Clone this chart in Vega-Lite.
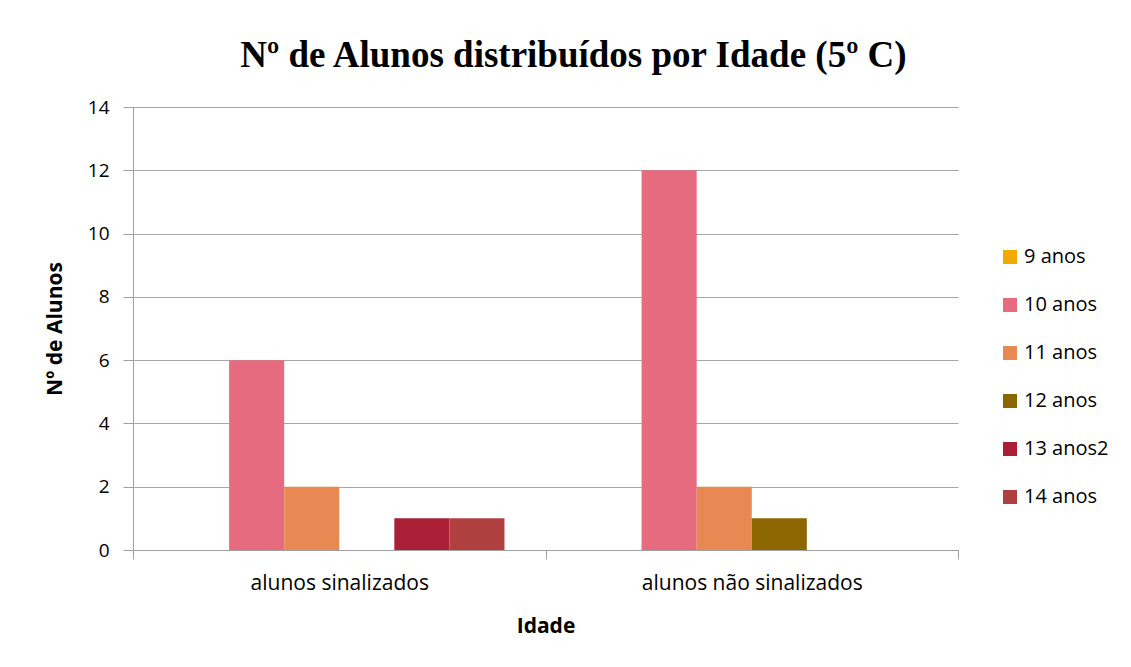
{
  "$schema": "https://vega.github.io/schema/vega-lite/v6.json",
  "autosize": {"type": "none"},
  "width": 825,
  "height": 443,
  "padding": {"left": 133, "top": 107, "right": 173, "bottom": 117},
  "background": "white",
  "title": {
    "text": "Nº de Alunos distribuídos por Idade (5º C)",
    "font": "Liberation Serif",
    "fontSize": 37,
    "fontWeight": "bold",
    "color": "#000000",
    "anchor": "middle",
    "dx": 28,
    "offset": 23
  },
  "data": {
    "values": [
      {"grupo": "alunos sinalizados", "idade": "9 anos", "alunos": 0},
      {"grupo": "alunos sinalizados", "idade": "10 anos", "alunos": 6},
      {"grupo": "alunos sinalizados", "idade": "11 anos", "alunos": 2},
      {"grupo": "alunos sinalizados", "idade": "12 anos", "alunos": 0},
      {"grupo": "alunos sinalizados", "idade": "13 anos2", "alunos": 1},
      {"grupo": "alunos sinalizados", "idade": "14 anos", "alunos": 1},
      {"grupo": "alunos não sinalizados", "idade": "9 anos", "alunos": 0},
      {"grupo": "alunos não sinalizados", "idade": "10 anos", "alunos": 12},
      {"grupo": "alunos não sinalizados", "idade": "11 anos", "alunos": 2},
      {"grupo": "alunos não sinalizados", "idade": "12 anos", "alunos": 1},
      {"grupo": "alunos não sinalizados", "idade": "13 anos2", "alunos": 0},
      {"grupo": "alunos não sinalizados", "idade": "14 anos", "alunos": 0}
    ]
  },
  "mark": {"type": "bar", "strokeWidth": 0},
  "encoding": {
    "x": {
      "field": "grupo",
      "type": "nominal",
      "sort": ["alunos sinalizados", "alunos não sinalizados"],
      "scale": {"paddingInner": 0, "paddingOuter": 0},
      "axis": {
        "title": "Idade",
        "titleFont": "Open Sans",
        "titleFontSize": 21,
        "titleFontWeight": "bold",
        "titleColor": "#000000",
        "titlePadding": 22,
        "labelAngle": 0,
        "labelFont": "Open Sans",
        "labelFontSize": 21,
        "labelColor": "#000000",
        "labelPadding": 13,
        "labelLimit": 0,
        "tickBand": "extent",
        "tickSize": 9,
        "tickColor": "#A0A0A0",
        "domainColor": "#A0A0A0",
        "grid": false
      }
    },
    "xOffset": {
      "field": "idade",
      "type": "nominal",
      "sort": ["9 anos", "10 anos", "11 anos", "12 anos", "13 anos2", "14 anos"],
      "scale": {"paddingInner": 0, "paddingOuter": 0.745}
    },
    "y": {
      "field": "alunos",
      "type": "quantitative",
      "scale": {"domain": [0, 14]},
      "axis": {
        "title": "Nº de Alunos",
        "titleFont": "Open Sans",
        "titleFontSize": 21,
        "titleFontWeight": "bold",
        "titleColor": "#000000",
        "titlePadding": 22,
        "values": [0, 2, 4, 6, 8, 10, 12, 14],
        "labelFont": "Open Sans",
        "labelFontSize": 19,
        "labelColor": "#000000",
        "labelPadding": 14,
        "tickSize": 10,
        "tickColor": "#A0A0A0",
        "domainColor": "#A0A0A0",
        "grid": true,
        "gridColor": "#A6A6A6"
      }
    },
    "color": {
      "field": "idade",
      "type": "nominal",
      "sort": ["9 anos", "10 anos", "11 anos", "12 anos", "13 anos2", "14 anos"],
      "scale": {
        "domain": ["9 anos", "10 anos", "11 anos", "12 anos", "13 anos2", "14 anos"],
        "range": ["#F2AA00", "#E66B7E", "#E88852", "#8C6600", "#AA1E36", "#B04040"]
      },
      "legend": {
        "title": null,
        "orient": "none",
        "legendX": 867,
        "legendY": 140,
        "symbolType": "square",
        "symbolSize": 196,
        "symbolStrokeWidth": 0,
        "labelFont": "Open Sans",
        "labelFontSize": 20,
        "labelColor": "#000000",
        "labelOffset": 4,
        "rowPadding": 28
      }
    }
  },
  "config": {
    "view": {"stroke": null}
  }
}
